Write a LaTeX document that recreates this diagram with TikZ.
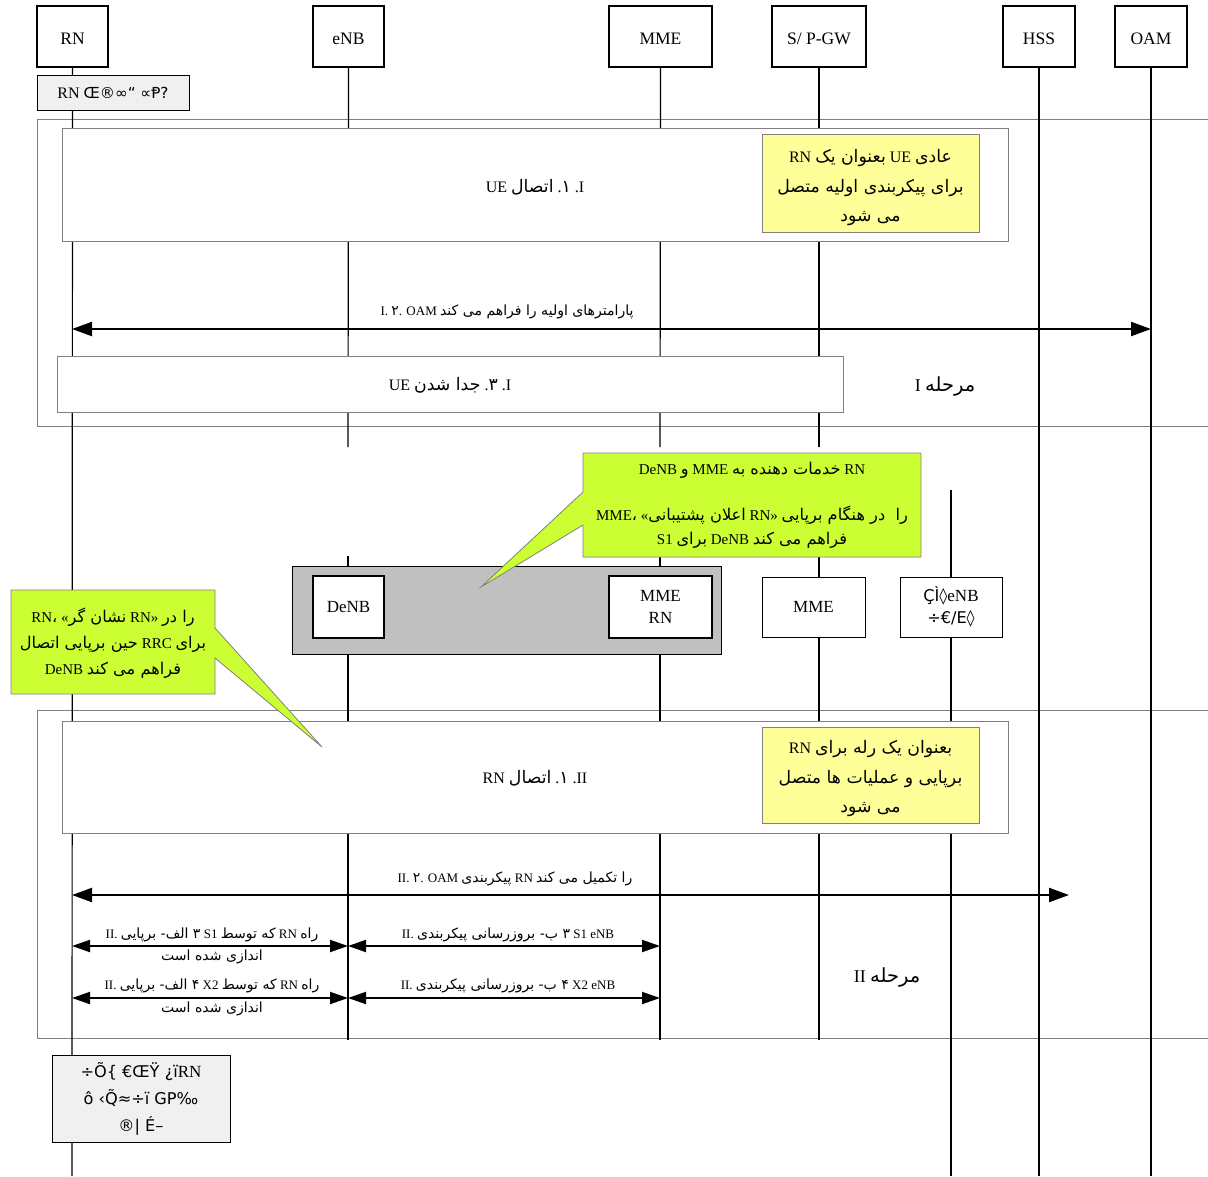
\documentclass[tikz,border=0pt]{standalone}
\usepackage{fontspec}
\setmainfont{Liberation Serif}
\newfontfamily\arfont[Script=Arabic,Scale=1.08]{DejaVu Sans}
\newfontfamily\symfont[Scale=0.95]{DejaVu Sans}
\TeXXeTstate=1
\newcommand{\far}[1]{{\arfont\beginR #1\endR}}
\newcommand{\sy}[1]{{\symfont #1}}
\usetikzlibrary{arrows.meta}
\definecolor{callgreen}{RGB}{204,255,51}
\definecolor{noteyellow}{RGB}{255,255,153}
\definecolor{greybox}{RGB}{192,192,192}
\definecolor{lightbox}{RGB}{240,240,240}
\tikzset{
  hdr/.style={draw, line width=1.6pt, fill=white, minimum height=61pt, inner sep=0pt, text height=15.5pt, text depth=0pt, font=\fontsize{17.5}{20}\selectfont},
  life/.style={line width=1.2pt},
  frame/.style={draw=gray, line width=0.7pt},
  stepbox/.style={draw=gray, line width=0.8pt, fill=white, inner sep=0pt},
  notebox/.style={draw=gray, line width=0.8pt, fill=noteyellow, inner sep=0pt},
  notetext/.style={inner sep=0pt, align=center, font=\fontsize{16}{29.5}\selectfont},
  entbox/.style={draw, line width=1.4pt, fill=white, inner sep=0pt, align=center, font=\fontsize{17}{22}\selectfont},
  msg/.style={line width=2.2pt, {Triangle[length=20pt,width=14pt]}-{Triangle[length=20pt,width=14pt]}},
  smsg/.style={line width=2pt, {Triangle[length=18pt,width=12pt]}-{Triangle[length=18pt,width=12pt]}},
  lbl/.style={inner sep=0pt, font=\fontsize{13}{17}\selectfont, align=center},
  boxlbl/.style={inner sep=0pt, font=\fontsize{16}{18}\selectfont},
  callout/.style={draw=gray, line width=0.8pt, fill=callgreen},
  ctext/.style={inner sep=0pt, align=center, font=\fontsize{15}{24}\selectfont},
  phase/.style={inner sep=0pt, font=\fontsize{18}{20}\selectfont}
}
\begin{document}
\begin{tikzpicture}[x=1pt,y=-1pt]
\useasboundingbox (0,0) rectangle (1208,1176);
% phase frames
\node[frame, minimum width=1183pt, minimum height=307pt, anchor=north west] (ph1) at (37,119) {};
\node[frame, minimum width=1183pt, minimum height=328pt, anchor=north west] (ph2) at (37,710) {};
% headers
\node[hdr, minimum width=71pt] (rn) at (72.5,36.5) {RN};
\node[hdr, minimum width=71pt] (enb) at (348.5,36.5) {eNB};
\node[hdr, minimum width=103pt] (mme) at (660.5,36.5) {MME};
\node[hdr, minimum width=94pt] (spgw) at (819,36.5) {S/ P-GW};
\node[hdr, minimum width=72pt] (hss) at (1039,36.5) {HSS};
\node[hdr, minimum width=72pt] (oam) at (1151,36.5) {OAM};
% lifeline coordinates
\coordinate (rnE) at (72,1176);
\coordinate (enbE) at (348,447);
\coordinate (mmeE) at (660,447);
\coordinate (spgwE) at (819,447);
\coordinate (hssE) at (1039,1176);
\coordinate (oamE) at (1151,1176);
\coordinate (enbB) at (348,556);
\coordinate (enbC) at (348,1040);
\coordinate (mmeB) at (660,556);
\coordinate (mmeC) at (660,1040);
\coordinate (spB) at (819,556);
\coordinate (spC) at (819,1040);
\coordinate (xB) at (951,490);
\coordinate (xC) at (951,1176);
\draw[life] (rn.south) -- (rnE);
\draw[life] (enb.south) -- (enbE);
\draw[life] (mme.south) -- (mmeE);
\draw[life] (spgw.south) -- (spgwE);
\draw[life] (hss.south) -- (hssE);
\draw[life] (oam.south) -- (oamE);
\draw[life] (enbB) -- (enbC);
\draw[life] (mmeB) -- (mmeC);
\draw[life] (spB) -- (spC);
\draw[life] (xB) -- (xC);
% top-left box
\node[draw, line width=1pt, fill=lightbox, minimum width=152pt, minimum height=35pt, inner sep=0pt, font=\fontsize{16}{18}\selectfont] (rntop) at (113,93) {RN \sy{Œ®∞“ ∝Ᵽ?}};
% Phase I
\node[stepbox, minimum width=946pt, minimum height=113pt] (i1) at (535,184.5) {};
\node[boxlbl] (i1t) at (535,187) {UE \far{اتصال} .\far{۱} .I};
\node[notebox, minimum width=217pt, minimum height=98pt] (n1) at (870.5,183) {};
\node[notetext] (n1t) at (870.5,188) {RN \far{بعنوان یک} UE \far{عادی}\\ \far{برای پیکربندی اولیه متصل}\\ \far{می شود}};
\coordinate (a2l) at (72,329);
\coordinate (a2r) at (1151,329);
\draw[msg] (a2l) -- (a2r);
\node[lbl] (a2t) at (507,312) {I. \far{۲}. OAM \far{پارامترهای اولیه را فراهم می کند}};
\node[stepbox, minimum width=786pt, minimum height=56pt] (i3) at (450,384) {};
\node[boxlbl] (i3t) at (450,385) {UE \far{جدا شدن} .\far{۳} .I};
\node[phase] (p1) at (945,386) {I \far{مرحله}};
% grey box
\node[draw, line width=1.4pt, fill=greybox, minimum width=429pt, minimum height=88pt, anchor=north west] (grey) at (292,566) {};
\node[entbox, minimum width=71pt, minimum height=62pt] (denb) at (348.5,607) {DeNB};
\node[entbox, minimum width=103pt, minimum height=62pt] (mmern) at (660.5,607) {MME\\RN};
\node[entbox, minimum width=103pt, minimum height=60pt, line width=1pt] (mme2) at (813.5,607) {MME};
\node[entbox, minimum width=102pt, minimum height=60pt, line width=1pt] (enbx) at (951,607) {\sy{ÇÌ◊}eNB\\\sy{÷€/E◊}};
% Phase II
\node[stepbox, minimum width=946pt, minimum height=112pt] (ii1) at (535,777) {};
\node[boxlbl] (ii1t) at (535,778) {RN \far{اتصال} .\far{۱} .II};
\node[notebox, minimum width=217pt, minimum height=96pt] (n2) at (870.5,775) {};
\node[notetext] (n2t) at (870.5,779) {RN \far{بعنوان یک رله برای}\\ \far{برپایی و عملیات ها متصل}\\ \far{می شود}};
\coordinate (b2l) at (72,895);
\coordinate (b2r) at (1069,895);
\draw[msg] (b2l) -- (b2r);
\node[lbl] (b2t) at (515,879) {II. \far{۲}. OAM \far{پیکربندی} RN \far{را تکمیل می کند}};
\coordinate (b3l) at (72,946);
\coordinate (b3m) at (348,946);
\coordinate (b3r) at (660,946);
\draw[smsg] (b3l) -- (b3m);
\draw[smsg] (b3m) -- (b3r);
\node[lbl] (b3at) at (212,935) {II. \far{۳ الف- برپایی} S1 \far{که توسط} RN \far{راه}};
\node[lbl] (b3ab) at (212,957) {\far{اندازی شده است}};
\node[lbl] (b3bt) at (508,935) {II. \far{۳ ب- بروزرسانی پیکربندی} S1 eNB};
\coordinate (b4l) at (72,998);
\coordinate (b4m) at (348,998);
\coordinate (b4r) at (660,998);
\draw[smsg] (b4l) -- (b4m);
\draw[smsg] (b4m) -- (b4r);
\node[lbl] (b4at) at (212,986) {II. \far{۴ الف- برپایی} X2 \far{که توسط} RN \far{راه}};
\node[lbl] (b4ab) at (212,1009) {\far{اندازی شده است}};
\node[lbl] (b4bt) at (508,986) {II. \far{۴ ب- بروزرسانی پیکربندی} X2 eNB};
\node[phase] (p2) at (887,977) {II \far{مرحله}};
% bottom box
\node[draw, line width=1pt, fill=lightbox, minimum width=178pt, minimum height=87pt, inner sep=0pt, align=center, font=\fontsize{17}{27}\selectfont] (rnbot) at (141,1098.5) {\sy{÷Õ\{  €ŒŸ ¿ï}RN\\ \sy{ô ‹Q̃≈÷ï GP‰}\\ \sy{®| É–}};
% callouts
\draw[callout] (583,453) -- (921,453) -- (921,557) -- (583,557) -- (583,525) -- (481,587) -- (583,492) -- cycle;
\node[ctext] (c1) at (752,505) {DeNB \far{و} MME \far{خدمات دهنده به} RN\\[22pt] MME\far{،} «\far{اعلان پشتیبانی} RN» \far{را\ \ در هنگام برپایی}\\ S1 \far{برای} DeNB \far{فراهم می کند}};
\draw[callout] (11,590) -- (215,590) -- (215,628) -- (322,747) -- (215,658) -- (215,694) -- (11,694) -- cycle;
\node[ctext, font=\fontsize{15}{26}\selectfont] (c2) at (113,643) {RN\far{،} «\far{نشان گر} RN» \far{را در}\\ \far{حین برپایی اتصال} RRC \far{برای}\\ DeNB \far{فراهم می کند}};
\end{tikzpicture}
\end{document}
